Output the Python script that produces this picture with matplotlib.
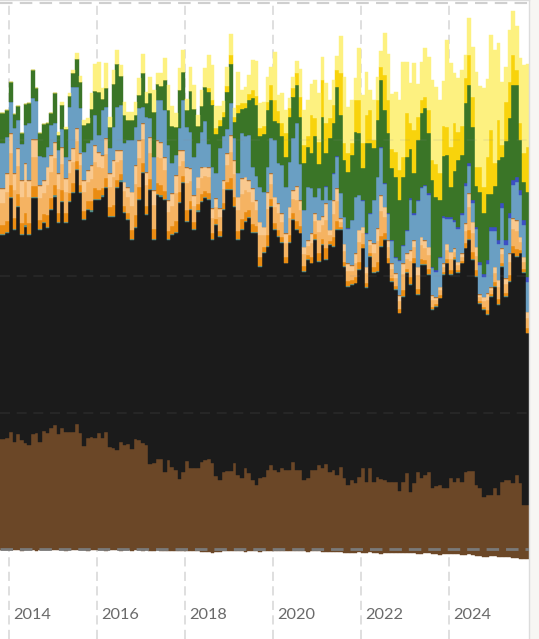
import numpy as np
import matplotlib
matplotlib.use("Agg")
import matplotlib.pyplot as plt

# Monthly generation (TWh), Oct 2013 .. Oct 2025 (145 months)
start_year, start_month = 2013, 10

brown_coal = [
    4.02, 4.02, 4.05,
    4.27, 3.93, 4.20, 3.99, 3.90, 3.81, 4.21, 4.24, 3.93, 4.33, 4.24, 4.42,
    4.54, 4.21, 4.42, 4.30, 4.27, 4.27, 4.57, 4.24, 3.79, 4.05, 4.09, 4.08,
    4.24, 4.05, 4.27, 3.75, 3.69, 3.63, 3.93, 3.81, 3.85, 3.65, 4.02, 3.99,
    3.90, 3.81, 3.11, 3.14, 3.29, 3.29, 2.83, 3.26, 3.02, 2.89, 2.55, 2.83,
    3.24, 2.96, 2.96, 2.96, 3.20, 3.26, 3.29, 3.16, 2.67, 2.53, 2.83, 2.87,
    2.87, 3.16, 2.71, 2.61, 2.96, 2.80, 2.53, 2.34, 2.59, 2.63, 2.89, 3.08,
    2.89, 2.83, 2.95, 2.89, 2.89, 3.17, 2.89, 2.89, 2.53, 2.59, 2.89, 2.89,
    3.08, 2.95, 3.11, 2.83, 2.89, 2.71, 3.02, 2.59, 2.34, 2.53, 2.41, 2.65,
    2.95, 2.47, 2.95, 2.47, 2.65, 2.56, 2.53, 2.47, 2.47, 2.47, 2.14, 2.47,
    2.77, 2.10, 2.41, 2.83, 2.59, 2.71, 2.83, 2.22, 2.31, 2.34, 2.22, 2.22,
    2.59, 2.47, 2.59, 2.47, 2.83, 2.87, 2.87, 2.34, 2.22, 1.92, 1.98, 1.98,
    2.22, 1.98, 2.47, 2.53, 2.53, 2.41, 2.71, 2.41, 1.61, 1.61,
]
black_coal = [
    7.48, 7.48, 7.51,
    8.58, 7.76, 8.34, 7.51, 7.91, 7.69, 8.64, 8.61, 7.76, 7.60, 7.51, 8.00,
    8.37, 7.72, 8.30, 7.63, 8.45, 8.76, 9.31, 8.79, 8.26, 8.37, 8.27, 8.70,
    8.54, 8.86, 8.94, 8.42, 8.48, 9.58, 9.53, 8.49, 8.20, 7.67, 7.73, 8.79,
    9.86, 8.42, 10.04, 8.18, 9.68, 9.62, 9.95, 8.06, 8.48, 8.67, 10.11, 10.56,
    8.75, 9.46, 8.73, 9.40, 9.52, 9.59, 9.49, 8.16, 9.20, 8.89, 9.59, 10.28,
    10.28, 9.38, 8.61, 9.08, 9.03, 9.31, 9.03, 9.22, 7.75, 8.20, 8.18, 9.46,
    8.80, 8.61, 8.25, 7.57, 8.31, 8.88, 8.80, 8.67, 7.63, 8.00, 7.57, 8.43,
    7.45, 8.19, 7.48, 8.31, 8.18, 8.98, 8.67, 7.75, 7.27, 7.14, 7.32, 7.57,
    8.06, 7.08, 7.76, 7.63, 7.51, 8.51, 8.79, 7.99, 7.32, 7.02, 6.49, 6.77,
    7.33, 7.57, 8.05, 6.47, 7.81, 7.69, 7.21, 6.53, 6.57, 6.84, 7.82, 8.24,
    7.45, 8.12, 7.51, 7.99, 8.18, 8.45, 7.72, 7.64, 6.77, 6.83, 6.59, 7.26,
    7.39, 6.96, 7.87, 6.71, 7.26, 8.42, 8.00, 8.42, 8.49, 6.29,
]
bioenergy = [
    0.04, 0.04, 0.04,
    0.04, 0.04, 0.04, 0.04, 0.04, 0.04, 0.04, 0.04, 0.04, 0.04, 0.04, 0.04,
    0.04, 0.04, 0.04, 0.04, 0.04, 0.04, 0.04, 0.04, 0.04, 0.04, 0.04, 0.04,
    0.04, 0.04, 0.04, 0.04, 0.04, 0.04, 0.04, 0.04, 0.04, 0.04, 0.04, 0.04,
    0.04, 0.04, 0.04, 0.04, 0.04, 0.04, 0.04, 0.04, 0.04, 0.04, 0.04, 0.04,
    0.04, 0.04, 0.04, 0.04, 0.04, 0.04, 0.04, 0.04, 0.04, 0.04, 0.04, 0.04,
    0.04, 0.04, 0.04, 0.04, 0.04, 0.04, 0.04, 0.04, 0.04, 0.04, 0.04, 0.04,
    0.03, 0.03, 0.03, 0.03, 0.03, 0.03, 0.03, 0.03, 0.03, 0.03, 0.03, 0.03,
    0.03, 0.03, 0.03, 0.03, 0.03, 0.03, 0.03, 0.03, 0.03, 0.03, 0.03, 0.03,
    0.03, 0.03, 0.03, 0.03, 0.03, 0.03, 0.03, 0.03, 0.03, 0.03, 0.03, 0.03,
    0.03, 0.03, 0.03, 0.03, 0.03, 0.03, 0.03, 0.03, 0.03, 0.03, 0.03, 0.03,
    0.03, 0.03, 0.03, 0.03, 0.03, 0.03, 0.03, 0.03, 0.03, 0.03, 0.03, 0.03,
    0.03, 0.03, 0.03, 0.03, 0.03, 0.03, 0.03, 0.03, 0.03, 0.03,
]
gas_steam = [
    0.33, 0.33, 0.43,
    0.46, 0.40, 0.41, 0.39, 0.45, 0.39, 0.42, 0.42, 0.32, 0.30, 0.44, 0.39,
    0.39, 0.35, 0.39, 0.32, 0.29, 0.32, 0.29, 0.28, 0.28, 0.28, 0.33, 0.39,
    0.34, 0.29, 0.35, 0.30, 0.40, 0.27, 0.22, 0.22, 0.23, 0.34, 0.45, 0.43,
    0.35, 0.30, 0.38, 0.35, 0.39, 0.39, 0.30, 0.28, 0.29, 0.41, 0.38, 0.23,
    0.39, 0.29, 0.24, 0.24, 0.24, 0.22, 0.23, 0.22, 0.18, 0.20, 0.21, 0.25,
    0.39, 0.33, 0.30, 0.36, 0.32, 0.27, 0.32, 0.23, 0.32, 0.18, 0.39, 0.23,
    0.23, 0.23, 0.21, 0.21, 0.26, 0.21, 0.31, 0.23, 0.17, 0.14, 0.21, 0.19,
    0.30, 0.20, 0.41, 0.10, 0.33, 0.30, 0.08, 0.16, 0.16, 0.14, 0.21, 0.28,
    0.15, 0.15, 0.11, 0.21, 0.31, 0.37, 0.23, 0.16, 0.12, 0.11, 0.12, 0.23,
    0.14, 0.25, 0.16, 0.20, 0.20, 0.17, 0.20, 0.10, 0.06, 0.08, 0.08, 0.14,
    0.16, 0.08, 0.08, 0.06, 0.17, 0.33, 0.27, 0.21, 0.06, 0.09, 0.15, 0.06,
    0.14, 0.17, 0.12, 0.12, 0.20, 0.25, 0.26, 0.11, 0.11, 0.15,
]
gas_ccgt = [
    0.82, 0.82, 1.06,
    1.16, 1.01, 1.04, 0.97, 1.13, 0.97, 1.04, 1.04, 0.79, 0.76, 1.09, 0.97,
    0.97, 0.88, 0.97, 0.79, 0.73, 0.79, 0.73, 0.70, 0.70, 0.70, 0.82, 0.97,
    0.85, 0.73, 0.88, 0.76, 1.01, 0.66, 0.54, 0.54, 0.57, 0.85, 1.13, 1.06,
    0.88, 0.76, 0.94, 0.88, 0.97, 0.97, 0.76, 0.70, 0.73, 1.04, 0.94, 0.57,
    0.97, 0.73, 0.60, 0.60, 0.60, 0.54, 0.57, 0.54, 0.45, 0.49, 0.51, 0.63,
    0.97, 0.82, 0.76, 0.91, 0.79, 0.66, 0.79, 0.57, 0.79, 0.45, 0.97, 0.57,
    0.59, 0.59, 0.52, 0.52, 0.64, 0.52, 0.77, 0.59, 0.44, 0.34, 0.52, 0.46,
    0.74, 0.49, 1.01, 0.25, 0.83, 0.74, 0.19, 0.40, 0.40, 0.34, 0.52, 0.71,
    0.37, 0.37, 0.28, 0.52, 0.77, 0.92, 0.59, 0.40, 0.31, 0.28, 0.31, 0.59,
    0.34, 0.61, 0.40, 0.49, 0.49, 0.44, 0.49, 0.25, 0.15, 0.19, 0.19, 0.34,
    0.40, 0.19, 0.19, 0.16, 0.44, 0.83, 0.68, 0.52, 0.15, 0.22, 0.37, 0.15,
    0.34, 0.44, 0.31, 0.31, 0.49, 0.61, 0.64, 0.28, 0.28, 0.37,
]
gas_ocgt = [
    0.49, 0.49, 0.64,
    0.69, 0.60, 0.62, 0.58, 0.67, 0.58, 0.63, 0.63, 0.47, 0.46, 0.66, 0.58,
    0.58, 0.53, 0.58, 0.47, 0.44, 0.47, 0.44, 0.42, 0.42, 0.42, 0.49, 0.58,
    0.51, 0.44, 0.53, 0.46, 0.60, 0.40, 0.33, 0.33, 0.35, 0.51, 0.67, 0.64,
    0.53, 0.46, 0.56, 0.53, 0.58, 0.58, 0.46, 0.42, 0.44, 0.62, 0.56, 0.35,
    0.58, 0.44, 0.37, 0.37, 0.37, 0.33, 0.35, 0.33, 0.28, 0.30, 0.31, 0.39,
    0.58, 0.49, 0.46, 0.55, 0.47, 0.40, 0.47, 0.35, 0.47, 0.28, 0.58, 0.35,
    0.35, 0.35, 0.32, 0.32, 0.39, 0.32, 0.46, 0.35, 0.26, 0.20, 0.32, 0.28,
    0.44, 0.30, 0.61, 0.15, 0.50, 0.44, 0.11, 0.24, 0.24, 0.20, 0.32, 0.43,
    0.22, 0.22, 0.17, 0.32, 0.46, 0.55, 0.35, 0.24, 0.19, 0.17, 0.19, 0.35,
    0.20, 0.37, 0.24, 0.30, 0.30, 0.26, 0.30, 0.15, 0.09, 0.11, 0.11, 0.20,
    0.24, 0.11, 0.11, 0.10, 0.26, 0.50, 0.40, 0.32, 0.09, 0.13, 0.22, 0.09,
    0.20, 0.26, 0.19, 0.19, 0.30, 0.37, 0.39, 0.17, 0.17, 0.22,
]
gas_other = [
    0.03, 0.03, 0.03,
    0.03, 0.03, 0.03, 0.03, 0.03, 0.03, 0.03, 0.03, 0.03, 0.03, 0.03, 0.03,
    0.03, 0.03, 0.03, 0.03, 0.03, 0.03, 0.03, 0.03, 0.03, 0.03, 0.03, 0.03,
    0.03, 0.03, 0.03, 0.03, 0.03, 0.03, 0.03, 0.03, 0.03, 0.03, 0.03, 0.03,
    0.03, 0.03, 0.03, 0.03, 0.03, 0.03, 0.03, 0.03, 0.03, 0.03, 0.03, 0.03,
    0.03, 0.03, 0.03, 0.03, 0.03, 0.03, 0.03, 0.03, 0.03, 0.03, 0.03, 0.03,
    0.03, 0.03, 0.03, 0.03, 0.03, 0.03, 0.03, 0.03, 0.03, 0.03, 0.03, 0.03,
    0.02, 0.02, 0.02, 0.02, 0.02, 0.02, 0.02, 0.02, 0.02, 0.02, 0.02, 0.02,
    0.02, 0.02, 0.02, 0.02, 0.02, 0.02, 0.02, 0.02, 0.02, 0.02, 0.02, 0.02,
    0.02, 0.02, 0.02, 0.02, 0.02, 0.02, 0.02, 0.02, 0.02, 0.02, 0.02, 0.02,
    0.02, 0.02, 0.02, 0.02, 0.02, 0.02, 0.02, 0.02, 0.02, 0.02, 0.02, 0.02,
    0.02, 0.02, 0.02, 0.02, 0.02, 0.02, 0.02, 0.02, 0.02, 0.02, 0.02, 0.02,
    0.02, 0.02, 0.02, 0.02, 0.02, 0.02, 0.02, 0.02, 0.02, 0.02,
]
hydro = [
    1.65, 1.65, 1.34,
    1.16, 1.65, 1.04, 1.34, 1.40, 2.08, 1.50, 1.40, 1.04, 0.85, 0.73, 1.10,
    0.67, 0.85, 0.67, 0.79, 1.95, 2.26, 1.53, 1.65, 1.04, 0.98, 0.92, 1.10,
    0.60, 1.65, 1.16, 0.92, 1.22, 1.59, 1.65, 1.40, 1.71, 1.89, 1.40, 1.16,
    0.60, 2.01, 0.67, 1.22, 1.47, 1.53, 1.71, 2.00, 1.10, 0.73, 0.80, 1.83,
    1.47, 1.34, 1.40, 1.22, 1.28, 1.65, 0.85, 1.53, 0.92, 2.20, 1.59, 0.90,
    1.16, 0.79, 0.85, 1.65, 1.47, 1.65, 0.79, 0.90, 1.28, 1.28, 0.90, 1.28,
    2.08, 1.47, 1.77, 1.71, 1.65, 1.89, 2.32, 1.34, 1.34, 1.95, 1.65, 0.61,
    1.15, 0.59, 0.60, 1.09, 0.97, 1.15, 0.91, 0.97, 1.27, 1.64, 2.07, 1.27,
    0.96, 1.20, 0.96, 1.57, 1.86, 1.74, 0.82, 0.95, 0.82, 0.57, 1.24, 0.63,
    0.81, 1.85, 0.93, 2.39, 1.78, 1.96, 1.89, 0.98, 0.92, 1.04, 1.64, 0.91,
    1.21, 0.97, 1.20, 1.39, 1.38, 1.01, 0.69, 0.63, 1.05, 0.73, 1.09, 2.06,
    1.32, 1.32, 1.49, 1.24, 1.30, 1.22, 1.41, 1.52, 1.14, 1.08,
]
battery = [
    0.0, 0.0, 0.0,
    0.0, 0.0, 0.0, 0.0, 0.0, 0.0, 0.0, 0.0, 0.0, 0.0, 0.0, 0.0,
    0.0, 0.0, 0.0, 0.0, 0.0, 0.0, 0.0, 0.0, 0.0, 0.0, 0.0, 0.0,
    0.0, 0.0, 0.0, 0.0, 0.0, 0.0, 0.0, 0.0, 0.0, 0.0, 0.0, 0.0,
    0.0, 0.0, 0.0, 0.0, 0.0, 0.0, 0.0, 0.0, 0.0, 0.0, 0.0, 0.0,
    0.0, 0.0, 0.0, 0.0, 0.0, 0.0, 0.0, 0.0, 0.0, 0.0, 0.0, 0.0,
    0.0, 0.0, 0.0, 0.0, 0.0, 0.0, 0.0, 0.0, 0.0, 0.0, 0.0, 0.0,
    0.0, 0.0, 0.0, 0.0, 0.0, 0.0, 0.0, 0.0, 0.0, 0.0, 0.0, 0.0,
    0.01, 0.01, 0.01, 0.01, 0.01, 0.01, 0.01, 0.01, 0.01, 0.01, 0.01, 0.01,
    0.02, 0.02, 0.02, 0.02, 0.03, 0.03, 0.03, 0.03, 0.03, 0.03, 0.04, 0.04,
    0.04, 0.04, 0.05, 0.05, 0.05, 0.05, 0.06, 0.06, 0.06, 0.06, 0.07, 0.07,
    0.07, 0.07, 0.08, 0.08, 0.09, 0.09, 0.10, 0.10, 0.11, 0.12, 0.13, 0.14,
    0.15, 0.15, 0.16, 0.16, 0.17, 0.18, 0.18, 0.19, 0.20, 0.20,
]
wind = [
    1.10, 1.10, 0.98,
    0.73, 0.50, 0.51, 0.37, 0.76, 0.73, 1.04, 0.46, 0.85, 1.20, 0.85, 0.43,
    1.12, 0.57, 0.88, 1.00, 0.39, 0.50, 1.02, 0.96, 0.96, 0.72, 1.11, 0.89,
    1.59, 0.40, 0.69, 0.76, 1.58, 1.58, 1.07, 1.03, 0.74, 0.74, 0.42, 0.50,
    1.25, 0.50, 0.93, 1.64, 0.60, 0.50, 1.09, 1.30, 1.38, 1.03, 1.40, 1.03,
    0.60, 1.48, 1.73, 0.64, 0.93, 1.25, 1.89, 2.27, 1.44, 0.83, 0.70, 1.36,
    1.46, 0.60, 2.22, 0.90, 1.03, 1.30, 2.51, 2.60, 1.85, 2.10, 2.10, 1.40,
    0.67, 1.47, 1.04, 1.10, 1.65, 1.53, 1.40, 1.71, 1.71, 1.47, 1.28, 2.20,
    0.90, 3.05, 1.22, 2.26, 1.83, 2.56, 2.87, 2.08, 2.08, 2.38, 2.38, 2.26,
    1.16, 3.30, 2.56, 1.89, 2.08, 2.44, 2.69, 2.93, 2.63, 2.93, 2.20, 2.50,
    2.69, 1.83, 1.47, 2.20, 2.69, 2.81, 2.20, 3.17, 2.69, 2.08, 2.20, 2.26,
    1.10, 1.77, 2.44, 2.14, 2.93, 2.87, 2.69, 1.47, 2.56, 2.20, 2.44, 1.22,
    1.47, 2.93, 1.71, 3.65, 3.50, 3.50, 3.36, 1.83, 1.40, 3.11,
]
solar_utility = [
    0.0, 0.0, 0.0,
    0.0, 0.0, 0.0, 0.0, 0.0, 0.0, 0.0, 0.0, 0.0, 0.0, 0.0, 0.0,
    0.0, 0.0, 0.0, 0.0, 0.0, 0.0, 0.0, 0.0, 0.0, 0.0, 0.0, 0.0,
    0.0, 0.0, 0.0, 0.0, 0.0, 0.0, 0.0, 0.0, 0.0, 0.0, 0.0, 0.0,
    0.0, 0.0, 0.0, 0.0, 0.0, 0.0, 0.0, 0.0, 0.0, 0.0, 0.0, 0.0,
    0.0, 0.0, 0.0, 0.0, 0.0, 0.0, 0.15, 0.15, 0.20, 0.20, 0.20, 0.20,
    0.30, 0.20, 0.30, 0.20, 0.20, 0.20, 0.30, 0.30, 0.30, 0.30, 0.30, 0.55,
    0.79, 0.43, 0.49, 0.85, 0.30, 0.30, 0.43, 0.73, 0.67, 0.37, 1.40, 0.67,
    0.79, 1.34, 1.10, 0.73, 0.67, 0.61, 1.53, 0.61, 0.67, 0.43, 1.16, 1.22,
    0.92, 1.04, 1.22, 0.31, 0.73, 0.49, 1.28, 1.22, 0.73, 0.92, 1.10, 0.73,
    1.59, 0.92, 1.59, 0.85, 0.49, 0.43, 0.85, 0.73, 1.22, 0.98, 1.10, 1.04,
    1.47, 1.77, 1.04, 1.04, 0.92, 1.10, 1.10, 0.73, 0.92, 0.98, 1.34, 2.32,
    0.85, 1.47, 0.43, 1.40, 1.30, 1.10, 0.55, 0.61, 1.04, 1.65,
]
solar_rooftop = [
    0.0, 0.0, 0.0,
    0.0, 0.0, 0.0, 0.0, 0.0, 0.0, 0.0, 0.0, 0.0, 0.0, 0.0, 0.0,
    0.0, 0.10, 0.10, 0.10, 0.10, 0.10, 0.20, 0.20, 0.20, 0.20, 0.60, 1.00,
    1.10, 0.40, 0.90, 0.40, 0.50, 0.50, 0.40, 0.50, 0.30, 0.30, 0.50, 0.60,
    0.70, 0.40, 0.60, 0.80, 0.40, 0.50, 0.80, 0.90, 0.70, 0.50, 0.80, 0.80,
    0.40, 0.90, 0.90, 0.40, 0.60, 0.70, 1.20, 1.30, 0.80, 0.50, 0.40, 0.70,
    0.80, 0.30, 1.20, 0.50, 0.60, 0.70, 1.10, 1.30, 0.90, 0.90, 0.90, 0.67,
    1.77, 0.61, 1.10, 0.85, 0.37, 0.43, 0.43, 1.04, 1.28, 1.34, 1.16, 1.40,
    1.79, 0.85, 1.47, 0.67, 0.92, 0.50, 1.34, 2.44, 1.71, 1.59, 0.79, 1.89,
    1.77, 1.59, 0.73, 1.47, 0.85, 0.60, 1.53, 1.71, 2.01, 2.20, 2.56, 3.48,
    1.89, 1.47, 2.44, 1.22, 1.40, 1.77, 1.95, 2.93, 2.81, 2.69, 1.65, 3.17,
    3.05, 1.83, 1.95, 2.08, 0.85, 1.34, 1.83, 3.48, 2.99, 3.60, 2.87, 3.48,
    4.15, 2.81, 2.32, 1.30, 1.90, 1.60, 1.59, 2.38, 3.24, 3.05,
]
# pumps / battery charging (shown below zero)
load_negative = [
    0.04, 0.04, 0.05,
    0.05, 0.04, 0.05, 0.06, 0.05, 0.04, 0.05, 0.06, 0.05, 0.04, 0.05, 0.05,
    0.04, 0.05, 0.05, 0.06, 0.05, 0.05, 0.04, 0.05, 0.05, 0.06, 0.05, 0.04,
    0.05, 0.05, 0.06, 0.05, 0.04, 0.05, 0.06, 0.05, 0.05, 0.06, 0.05, 0.05,
    0.06, 0.05, 0.07, 0.06, 0.05, 0.06, 0.07, 0.06, 0.06, 0.07, 0.06, 0.06,
    0.07, 0.08, 0.07, 0.09, 0.10, 0.12, 0.11, 0.13, 0.12, 0.10, 0.09, 0.08,
    0.08, 0.07, 0.09, 0.08, 0.10, 0.09, 0.08, 0.09, 0.10, 0.08, 0.07, 0.08,
    0.08, 0.09, 0.07, 0.06, 0.08, 0.07, 0.09, 0.08, 0.07, 0.10, 0.09, 0.08,
    0.09, 0.10, 0.11, 0.12, 0.11, 0.10, 0.12, 0.13, 0.15, 0.16, 0.14, 0.12,
    0.13, 0.14, 0.12, 0.13, 0.15, 0.17, 0.16, 0.14, 0.13, 0.15, 0.16, 0.14,
    0.14, 0.16, 0.15, 0.17, 0.18, 0.16, 0.15, 0.17, 0.19, 0.21, 0.20, 0.18,
    0.19, 0.18, 0.20, 0.22, 0.21, 0.20, 0.22, 0.24, 0.27, 0.29, 0.28, 0.27,
    0.26, 0.28, 0.30, 0.31, 0.29, 0.32, 0.33, 0.35, 0.37, 0.36,
]

tick_years = [2014, 2016, 2018, 2020, 2022, 2024]

series = [
    ("Coal (Brown)", brown_coal, "#6b4727"),
    ("Coal (Black)", black_coal, "#1b1b1b"),
    ("Bioenergy", bioenergy, "#4d8c8c"),
    ("Gas (Steam)", gas_steam, "#ea8c12"),
    ("Gas (CCGT)", gas_ccgt, "#f5b362"),
    ("Gas (OCGT)", gas_ocgt, "#f9c98f"),
    ("Gas (Other)", gas_other, "#b8691c"),
    ("Hydro", hydro, "#6a9fc3"),
    ("Battery", battery, "#3c4fc4"),
    ("Wind", wind, "#3a7527"),
    ("Solar (Utility)", solar_utility, "#f8d30c"),
    ("Solar (Rooftop)", solar_rooftop, "#fdf180"),
]

n = len(brown_coal)
x = np.arange(n)

W, H = 539, 639
fig = plt.figure(figsize=(W / 100, H / 100), dpi=100, facecolor="#f7f6f3")
ax_right = 529 / W
ax = fig.add_axes([0, 0, ax_right, 1])
ax.set_facecolor("white")

px_per_unit = 27.3
zero_px = 549
ax.set_ylim(-(H - zero_px) / px_per_unit, zero_px / px_per_unit)
month_px = 44 / 12
x0 = 3 - 9 / month_px
ax.set_xlim(x0, x0 + 529 / month_px)

# vertical gridlines (behind) and year labels
for yr in tick_years:
    xm = (yr - start_year) * 12 + (1 - start_month)
    ax.axvline(xm, color="#d6d6d6", lw=1.1, dashes=(6, 3.5), zorder=0)
    ax.text(xm + 4 / month_px, 1 - 615 / H, str(yr), transform=ax.get_xaxis_transform(),
            ha="left", va="center", fontsize=11.8, color="#6a6a6a", family="Lato")

# negative stack
ax.bar(x, -np.array(load_negative), width=1.0, align="edge", bottom=0,
       color="#6b4727", edgecolor="#6b4727", linewidth=0.3, zorder=2)

bottom = np.zeros(n)
for name, vals, col in series:
    v = np.array(vals, dtype=float)
    ax.bar(x, v, width=1.0, align="edge", bottom=bottom, color=col,
           edgecolor=col, linewidth=0.3, zorder=2)
    bottom = bottom + v

# horizontal gridlines
for gy in [5, 10, 15]:
    ax.axhline(gy, color="#8a8a8a", alpha=0.12, lw=1.2, dashes=(6, 4), zorder=3)
ax.axhline(20, color="#cfcfcf", lw=1.5, dashes=(6, 3.5), zorder=3)
ax.axhline(0, color="#7a7a7a", lw=2.0, dashes=(4.5, 2.5), zorder=4)

for s in ["left", "bottom"]:
    ax.spines[s].set_visible(False)
for s in ["top", "right"]:
    ax.spines[s].set_color("#dcdcdc")
    ax.spines[s].set_linewidth(1.0)
ax.set_xticks([])
ax.set_yticks([])

fig.savefig("out.png", dpi=100, facecolor=fig.get_facecolor())
